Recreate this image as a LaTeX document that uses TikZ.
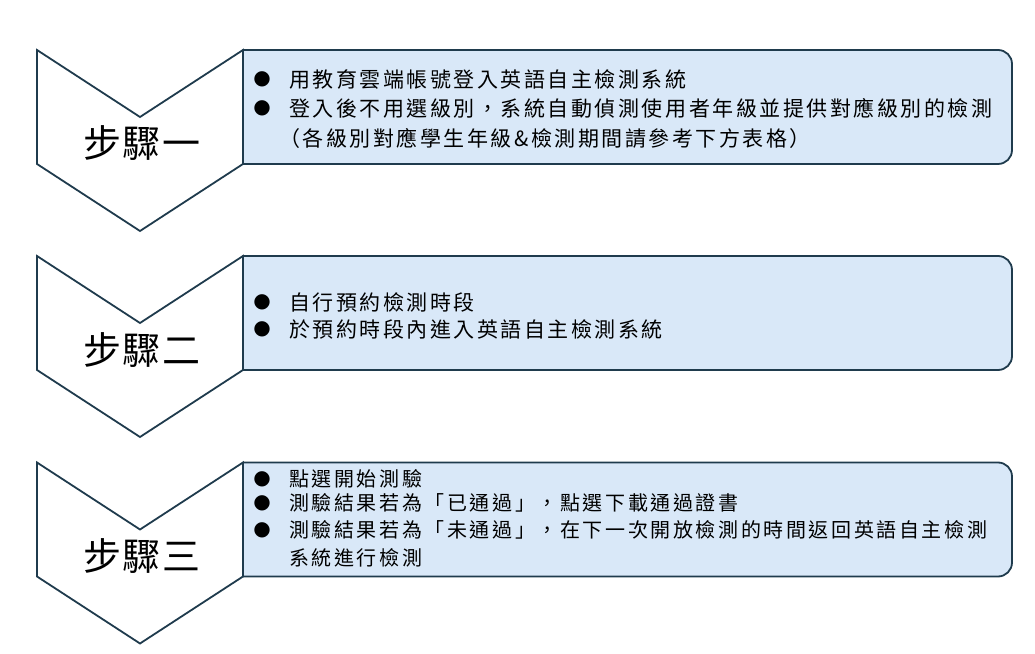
\documentclass[tikz,border=0pt]{standalone}
\usepackage{fontspec}
\usepackage{tikz}
\newfontfamily\cjkbody[LetterSpace=12]{Noto Sans CJK TC}
\newfontfamily\cjksmall[LetterSpace=13]{Noto Sans CJK TC}
\newfontfamily\cjkstep[LetterSpace=5]{Noto Sans CJK TC}
\newfontfamily\dotfont{DejaVu Sans}
\definecolor{edgeblue}{HTML}{1F3B4D}
\definecolor{boxfill}{HTML}{D9E8F8}
\tikzset{
	stepbox/.style={draw=edgeblue, fill=boxfill, line width=1.8pt, line join=round},
	chevronshape/.style={draw=edgeblue, fill=white, line width=1.8pt, line join=miter},
	steplabel/.style={inner sep=0pt, font=\cjkstep\fontsize{38pt}{44pt}\selectfont},
	itemline/.style={anchor=west, inner sep=0pt, font=\cjkbody\fontsize{21pt}{25pt}\selectfont},
	itemsmall/.style={anchor=west, inner sep=0pt, font=\cjksmall\fontsize{20pt}{24pt}\selectfont},
	bulletmark/.style={inner sep=0pt, font=\dotfont\fontsize{20pt}{22pt}\selectfont}
}

\begin{document}
\begin{tikzpicture}[x=1pt,y=1pt]
			      \useasboundingbox (0,0) rectangle (1035,653);
			      % boxes and chevrons
			      \foreach \top in {603,397,190.5} {
				      \draw[stepbox] (243,\top) -- (998,\top) arc[start angle=90, end angle=0, radius=14pt]
					      -- (1012,\top-100) arc[start angle=0, end angle=-90, radius=14pt] -- (243,\top-114) -- cycle;
				      \draw[chevronshape] (37,\top) -- (140,\top-67) -- (243,\top) -- (243,\top-114)
					      -- (140,\top-181) -- (37,\top-114) -- cycle;
			      }
			      % step one
			      \node[steplabel] (stepone) at (142,510) {步驟一};
			      \node[bulletmark] (dotonea) at (262,574) {●};
			      \node[bulletmark] (dotoneb) at (262,545) {●};
			      \node[itemline] (lineonea) at (289,574) {用教育雲端帳號登入英語自主檢測系統};
			      \node[itemline] (lineoneb) at (289,545) {登入後不用選級別，系統自動偵測使用者年級並提供對應級別的檢測};
			      \node[itemline] (lineonec) at (279,515) {（各級別對應學生年級\&檢測期間請參考下方表格）};
			      % step two
			      \node[steplabel] (steptwo) at (142,303) {步驟二};
			      \node[bulletmark] (dottwoa) at (262,351) {●};
			      \node[bulletmark] (dottwob) at (262,324) {●};
			      \node[itemline] (linetwoa) at (289,351) {自行預約檢測時段};
			      \node[itemline] (linetwob) at (289,324) {於預約時段內進入英語自主檢測系統};
			      % step three
			      \node[steplabel] (stepthree) at (142,97) {步驟三};
			      \node[bulletmark] (dotthreea) at (262,174) {●};
			      \node[bulletmark] (dotthreeb) at (262,150) {●};
			      \node[bulletmark] (dotthreec) at (262,123) {●};
			      \node[itemsmall] (linethreea) at (289,174) {點選開始測驗};
			      \node[itemsmall] (linethreeb) at (289,150) {測驗結果若為「已通過」，點選下載通過證書};
			      \node[itemsmall] (linethreec) at (289,123) {測驗結果若為「未通過」，在下一次開放檢測的時間返回英語自主檢測};
			      \node[itemsmall] (linethreed) at (289,95) {系統進行檢測};
		      \end{tikzpicture}
\end{document}
